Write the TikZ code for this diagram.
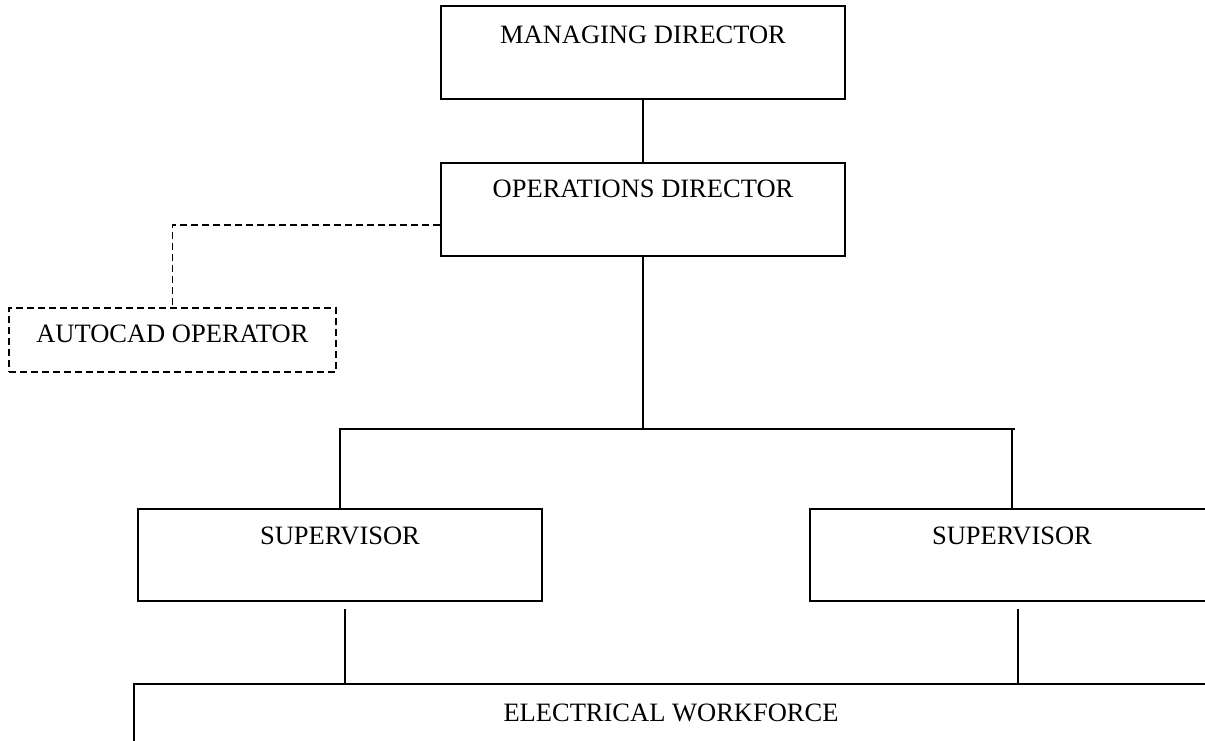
\documentclass[tikz,border=0pt]{standalone}
\usepackage{fontspec}
\setmainfont{Liberation Serif}
\begin{document}
\begin{tikzpicture}[x=1pt,y=-1pt,
  every node/.style={font=\fontsize{26.5}{30}\selectfont},
  box/.style={draw, line width=2pt, inner sep=0pt, anchor=north west, align=center},
  dbox/.style={box, dash pattern=on 7pt off 4pt, line width=1.8pt},
  link/.style={line width=2pt},
  dlink/.style={line width=1.8pt, dash pattern=on 7pt off 4pt}]
\useasboundingbox (0,0) rectangle (1205,740);
\clip (0,0) rectangle (1205,740);
\node[box, minimum width=404pt, text height=37pt, text depth=56pt] (MD) at (440,5) {MANAGING DIRECTOR};
\node[box, minimum width=404pt, text height=34pt, text depth=59pt] (OD) at (440,162) {OPERATIONS DIRECTOR};
\node[dbox, minimum width=327pt, text height=35pt, text depth=29pt] (AC) at (8,307) {AUTOCAD OPERATOR};
\node[box, minimum width=404pt, text height=35pt, text depth=57pt] (S1) at (137,508) {SUPERVISOR};
\node[box, minimum width=404pt, text height=35pt, text depth=57pt] (S2) at (809,508) {SUPERVISOR};
\node[box, minimum width=1074pt, text height=37pt, text depth=50pt] (EW) at (133,683) {ELECTRICAL WORKFORCE};
\coordinate (bus) at (648,429);
\draw[link] (MD.south) -- (OD.north);
\draw[dlink] (OD.west |- 0,225) -| (AC.north);
\draw[link] (OD.south) -- (OD.south |- bus);
\draw[link] (S1.north) |- ([xshift=3pt]S2.north |- bus);
\draw[link] (S2.north) -- (S2.north |- bus);
\draw[link] ([xshift=5pt,yshift=-7pt]S1.south) -- ([xshift=5pt]S1.south |- EW.north);
\draw[link] ([xshift=6pt,yshift=-7pt]S2.south) -- ([xshift=6pt]S2.south |- EW.north);
\end{tikzpicture}
\end{document}
